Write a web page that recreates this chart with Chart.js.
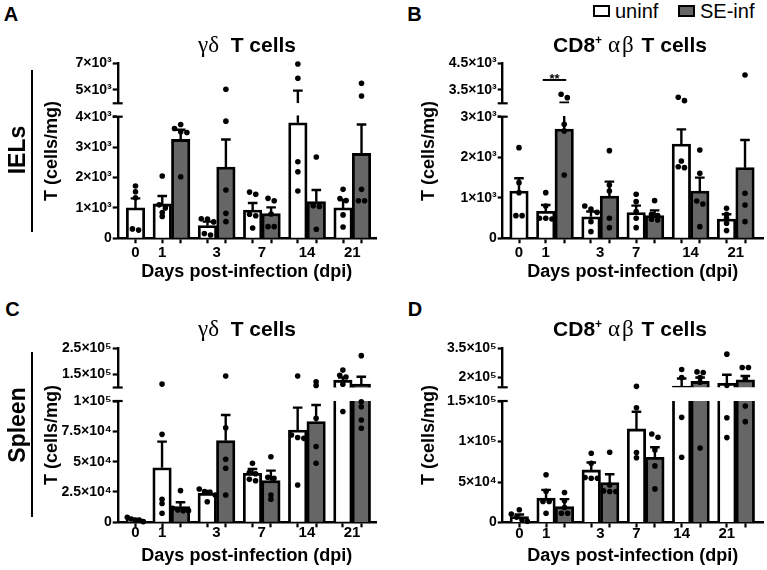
<!DOCTYPE html>
<html><head><meta charset="utf-8"><title>T cells</title>
<script src="https://cdn.jsdelivr.net/npm/chart.js@4.4.1/dist/chart.umd.min.js"></script>
<style>
html,body{margin:0;padding:0;background:#fff;}
#fig{position:relative;width:767px;height:570px;overflow:hidden;background:#fff;font-family:'Liberation Sans',Arial,Helvetica,sans-serif;color:#000;}
#fig canvas{position:absolute;}
.tx{position:absolute;white-space:nowrap;line-height:1;transform:translate(-50%,-50%);}
.lt{position:absolute;white-space:nowrap;line-height:1;transform:translate(0,-50%);}
.rot{transform:translate(-50%,-50%) rotate(-90deg);}
.bold{font-weight:bold;}
.gr{font-family:'Liberation Serif','DejaVu Serif',serif;font-weight:normal;}
.vline{position:absolute;background:#000;width:2.5px;}
.lbox{position:absolute;box-sizing:border-box;border:2px solid #000;width:17px;height:12px;}
</style></head>
<body><div id="fig"></div>
<script>
// ---------------- DATA ----------------
const days = ['0', '1', '3', '7', '14', '21'];
const seriesNames = ['uninf', 'SE-inf'];

// Panel A: γδ T cells, IELs
const A_uninfMean = [1000, 1130, 416, 930, 3800, 1000];
const A_uninfSem  = [314, 260, 132, 230, 1150, 260];
const A_infMean   = [null, 3252, 2343, 810, 1205, 2792];
const A_infSem    = [null, 320, 909, 208, 383, 953];
const A_uninfDots = [[1720,1530,1330,270,310],[2050,1100,1000,850,720],[640,540,630,160,110],[1520,1450,790,740,340],[6950,5875,2520,2190,1555],[1610,1310,1240,770,370]];
const A_infDots   = [[],[3745,3614,3504,3482,2026],[5050,3854,1588,821,548],[1314,1237,800,383,383],[2672,1050,1070,296],[5500,4550,1610,1237,1237]];
const A_lowerTicks = [0, 1000, 2000, 3000, 4000];
const A_lowerTickLabels = ['0', '1×10³', '2×10³', '3×10³', '4×10³'];
const A_upperTicks = [5000, 7000];
const A_upperTickLabels = ['5×10³', '7×10³'];

// Panel B: CD8+ αβ T cells, IELs
const B_uninfMean = [1167, 666, 530, 633, 2326, 477];
const B_uninfSem  = [313, 156, 130, 172, 362, 115];
const B_infMean   = [null, 2696, 1044, 559, 1167, 1743];
const B_infSem    = [null, 324, 353, 131, 329, 682];
const B_uninfDots = [[2236,1373,1126,559,559],[1126,797,493,493,477],[797,723,640,411,164],[1085,904,658,493,263],[3225,3100,1907,1743,1767],[740,590,500,370,190]];
const B_infDots   = [[],[3337,3212,2811,2650,1562],[2162,1315,1167,493,263],[929,590,560,470,450],[2178,1603,921,847,288],[4063,1110,822,411]];
const B_lowerTicks = [0, 1000, 2000, 3000];
const B_lowerTickLabels = ['0', '1×10³', '2×10³', '3×10³'];
const B_upperTicks = [3500, 4500];
const B_upperTickLabels = ['3.5×10³', '4.5×10³'];
const B_sigDay = 1, B_sigValue = 3875, B_sigText = '**';

// Panel C: γδ T cells, Spleen
const C_uninfMean = [2300, 45000, 23900, 40400, 76100, 128000];
const C_uninfSem  = [500, 21500, 1900, 3600, 18400, 10000];
const C_infMean   = [null, 12900, 67300, 34300, 83000, 112800];
const C_infSem    = [null, 3600, 21150, 8300, 13700, 28200];
const C_uninfDots = [[4100,2750,1900,1900,550],[113000,72500,19000,15500,7500],[27500,25300,24700,22500,17000],[48600,41000,40000,35400,34300],[143600,72000,69900,69200,30800],[166500,147000,140000,112500,91400]];
const C_infDots   = [[],[26100,11500,10200,9600,9600],[143600,78000,51900,44500,22500],[54100,37100,36300,22500,19000],[122000,108000,85700,62500,48700],[221800,99400,95300,84300,77500]];
const C_lowerTicks = [0, 25000, 50000, 75000, 100000];
const C_lowerTickLabels = ['0', '2.5×10⁴', '5×10⁴', '7.5×10⁴', '1×10⁵'];
const C_upperTicks = [150000, 250000];
const C_upperTickLabels = ['1.5×10⁵', '2.5×10⁵'];

// Panel D: CD8+ αβ T cells, Spleen
const D_uninfMean = [7400, 30000, 64900, 115500, 156000, 171000];
const D_uninfSem  = [2500, 10300, 9100, 21300, 39000, 43000];
const D_infMean   = [null, 19700, 49300, 80500, 180000, 188000];
const D_infSem    = [null, 9100, 10300, 12400, 20000, 20000];
const D_uninfDots = [[15800,10500,6500,3500,1500],[59000,38500,26000,26000,11500],[85500,73100,54700,54700,55500],[155000,141600,86300,80000],[241000,200000,129800,80500],[320000,160000,129400,104800]];
const D_infDots   = [[],[37000,26700,18500,11500,11500],[86700,46400,39000,38200,38200],[109300,105200,89600,69900,41500],[229000,226000,200000,176000,92000],[251700,251700,195000,143800,124500]];
const D_lowerTicks = [0, 50000, 100000, 150000];
const D_lowerTickLabels = ['0', '5×10⁴', '1×10⁵', '1.5×10⁵'];
const D_upperTicks = [200000, 350000];
const D_upperTickLabels = ['2×10⁵', '3.5×10⁵'];

// ---------------- LAYOUT / STYLE ----------------
const FONT = "'Liberation Sans', Arial, sans-serif";
const UNIT = 18.45;      // px per bar slot
const BAR_W = 18.5;
const GRAY = '#666666';
const fig = document.getElementById('fig');

function barPos(k, s) { return k === 0 ? 0 : 1.45 + (k - 1) * 2.45 + s; }

const panels = [
  { uMean: A_uninfMean, uSem: A_uninfSem, sMean: A_infMean, sSem: A_infSem, uDots: A_uninfDots, sDots: A_infDots,
    ticks: { lower: [A_lowerTicks, A_lowerTickLabels], upper: [A_upperTicks, A_upperTickLabels] },
    range: { lower: [0, 4000], upper: [4000, 7000] },
    area: { lower: [116.7, 238.3], upper: [63.3, 103.3] },
    left: 0, width: 383, axisX: 117.7, rightX: 376, day0X: 135.5,
    upperCanvas: [53, 60], lowerCanvas: [106, 186],
    labelAnchor: ['u','u','m','m','m','m'], tickPad: 1, titlePad: 8.7 },
  { uMean: B_uninfMean, uSem: B_uninfSem, sMean: B_infMean, sSem: B_infSem, uDots: B_uninfDots, sDots: B_infDots,
    ticks: { lower: [B_lowerTicks, B_lowerTickLabels], upper: [B_upperTicks, B_upperTickLabels] },
    range: { lower: [0, 3000], upper: [3000, 4500] },
    area: { lower: [116.7, 238.3], upper: [63.3, 103.3] },
    left: 383, width: 384, axisX: 502.7, rightX: 763, day0X: 519,
    upperCanvas: [53, 60], lowerCanvas: [106, 186],
    labelAnchor: ['u','u','m','u','m','m'], tickPad: 1, titlePad: 8.7,
    sig: { day: B_sigDay, value: B_sigValue, text: B_sigText } },
  { uMean: C_uninfMean, uSem: C_uninfSem, sMean: C_infMean, sSem: C_infSem, uDots: C_uninfDots, sDots: C_infDots,
    ticks: { lower: [C_lowerTicks, C_lowerTickLabels], upper: [C_upperTicks, C_upperTickLabels] },
    range: { lower: [0, 100000], upper: [100000, 250000] },
    area: { lower: [401, 522.3], upper: [348.3, 387.5] },
    left: 0, width: 383, axisX: 117.7, rightX: 376, day0X: 135.3,
    upperCanvas: [338, 60], lowerCanvas: [390, 180],
    labelAnchor: ['u','u','m','m','m','m'], tickPad: -3, titlePad: 2.7 },
  { uMean: D_uninfMean, uSem: D_uninfSem, sMean: D_infMean, sSem: D_infSem, uDots: D_uninfDots, sDots: D_infDots,
    ticks: { lower: [D_lowerTicks, D_lowerTickLabels], upper: [D_upperTicks, D_upperTickLabels] },
    range: { lower: [0, 150000], upper: [150000, 350000] },
    area: { lower: [401, 522.5], upper: [348.3, 387.3] },
    left: 383, width: 384, axisX: 502.7, rightX: 763, day0X: 519.3,
    upperCanvas: [338, 60], lowerCanvas: [390, 180],
    labelAnchor: ['u','u','m','u','u','u'], tickPad: -3, titlePad: 2.7 }
];

// horizontal spread (px) of overlapping dots, computed from values
function dotOffsets(vals, P) {
  const items = vals.map((v, i) => {
    const seg = v <= P.range.lower[1] ? 'lower' : 'upper';
    const [mn, mx] = P.range[seg], [t, b] = P.area[seg];
    return { i, seg, py: t + (mx - v) / (mx - mn) * (b - t) };
  });
  const out = vals.map(() => 0);
  ['lower', 'upper'].forEach(seg => {
    const arr = items.filter(it => it.seg === seg).sort((a, b) => a.py - b.py);
    let cl = [];
    const flush = () => {
      const n = cl.length, sp = n > 1 ? Math.min(6.2, 16 / (n - 1)) : 0;
      cl.forEach((it, k) => { out[it.i] = (k - (n - 1) / 2) * sp; });
      cl = [];
    };
    arr.forEach(it => { if (cl.length && it.py - cl[cl.length - 1].py >= 3.5) flush(); cl.push(it); });
    flush();
  });
  return out;
}

function buildChart(P, seg) {
  const isLower = seg === 'lower';
  const [ymin, ymax] = P.range[seg];
  const [aTop, aBot] = P.area[seg];
  const [cTop, cH] = isLower ? P.lowerCanvas : P.upperCanvas;
  const cv = document.createElement('canvas');
  cv.width = P.width; cv.height = cH;
  Object.assign(cv.style, { left: P.left + 'px', top: cTop + 'px', width: P.width + 'px', height: cH + 'px' });
  fig.appendChild(cv);
  const padTop = aTop - cTop;
  const below = cTop + cH - aBot;
  const yW = P.axisX - P.left;
  const padRight = P.left + P.width - P.rightX;
  const xMin = -(P.day0X - P.axisX) / UNIT;
  const xMax = xMin + (P.rightX - P.axisX) / UNIT;
  const inSeg = v => v != null && (isLower ? v <= ymax : v > ymin);
  const segBar = v => v == null ? null : (isLower ? v : (v > ymin ? v : null));

  const uBars = days.map((d, k) => ({ x: barPos(k, 0), y: segBar(P.uMean[k]) }));
  const sBars = [];
  days.forEach((d, k) => { if (P.sMean[k] != null) sBars.push({ x: barPos(k, 1), y: segBar(P.sMean[k]) }); });
  const dotData = (dots, s) => {
    const out = [];
    dots.forEach((vals, k) => {
      const off = dotOffsets(vals, P);
      vals.forEach((v, i) => { if (inSeg(v)) out.push({ x: barPos(k, s) + off[i] / UNIT, y: v }); });
    });
    return out;
  };
  const errs = [];
  days.forEach((d, k) => {
    errs.push({ x: barPos(k, 0), m: P.uMean[k], e: P.uSem[k] });
    if (P.sMean[k] != null) errs.push({ x: barPos(k, 1), m: P.sMean[k], e: P.sSem[k] });
  });
  const markPos = [];
  days.forEach((d, k) => { markPos.push(barPos(k, 0)); if (P.sMean[k] != null) markPos.push(barPos(k, 1)); });
  const labelPos = days.map((d, k) => (k === 0 || P.labelAnchor[k] === 'u') ? barPos(k, 0) : barPos(k, 0) + 0.5);
  const [tv, tl] = P.ticks[seg];

  const barStyle = { type: 'bar', borderColor: '#000', borderWidth: 2.8, borderSkipped: 'start', grouped: false,
                     barThickness: BAR_W, clip: 0, order: 2 };
  const dotStyle = { type: 'scatter', pointRadius: 2.8, pointHoverRadius: 2.8, pointBackgroundColor: '#000',
                     pointBorderWidth: 0, borderColor: '#000', backgroundColor: '#000', showLine: false, order: 1,
                     clip: 6 };

  const decor = {
    id: 'decor',
    afterDatasetsDraw(chart) {
      const { ctx, chartArea: a } = chart;
      const xs = chart.scales.x, ys = chart.scales.y;
      ctx.save();
      ctx.beginPath();
      ctx.rect(a.left - 10, a.top - 1.5, a.right - a.left + 20, a.bottom - a.top + 1.5);
      ctx.clip();
      ctx.strokeStyle = '#000'; ctx.lineWidth = 2.4; ctx.lineCap = 'butt';
      errs.forEach(e => {
        const px = xs.getPixelForValue(e.x);
        const top = e.m + e.e;
        const yTop = ys.getPixelForValue(top), yBase = ys.getPixelForValue(e.m);
        const y1 = Math.min(yBase, a.bottom), y2 = Math.max(yTop, a.top - 1.5);
        if (y2 < y1) { ctx.beginPath(); ctx.moveTo(px, y1); ctx.lineTo(px, y2); ctx.stroke(); }
        if (top >= ys.min && top <= ys.max) {
          ctx.beginPath(); ctx.moveTo(px - 4.8, yTop); ctx.lineTo(px + 4.8, yTop); ctx.stroke();
        }
      });
      ctx.restore();
      // axis break caps
      ctx.save();
      ctx.strokeStyle = '#000'; ctx.lineWidth = 2.2;
      const yb = isLower ? a.top : a.bottom;
      ctx.beginPath(); ctx.moveTo(a.left - 5, yb); ctx.lineTo(a.left + 5, yb); ctx.stroke();
      // significance bracket
      if (!isLower && P.sig) {
        const k = days.indexOf(String(P.sig.day));
        const x1 = xs.getPixelForValue(barPos(k, 0)) - 3, x2 = xs.getPixelForValue(barPos(k, 1)) + 2;
        const y = ys.getPixelForValue(P.sig.value);
        ctx.lineWidth = 2;
        ctx.beginPath(); ctx.moveTo(x1, y); ctx.lineTo(x2, y); ctx.stroke();
        ctx.fillStyle = '#000'; ctx.font = 'bold 13px ' + FONT; ctx.textAlign = 'center'; ctx.textBaseline = 'alphabetic';
        ctx.fillText(P.sig.text, (x1 + x2) / 2, y + 3.5);
      }
      ctx.restore();
    }
  };

  return new Chart(cv, {
    type: 'bar',
    data: {
      datasets: [
        Object.assign({ label: seriesNames[0], data: dotData(P.uDots, 0) }, dotStyle),
        Object.assign({ label: seriesNames[1], data: dotData(P.sDots, 1) }, dotStyle),
        Object.assign({ label: seriesNames[0], data: uBars, backgroundColor: '#ffffff' }, barStyle),
        Object.assign({ label: seriesNames[1], data: sBars, backgroundColor: GRAY }, barStyle)
      ]
    },
    options: {
      responsive: false, animation: false, devicePixelRatio: 1,
      events: [],
      layout: { padding: { top: padTop, bottom: isLower ? 0 : below, left: 0, right: padRight } },
      plugins: { legend: { display: false }, tooltip: { enabled: false }, title: { display: false } },
      scales: {
        x: {
          type: 'linear', min: xMin, max: xMax, display: isLower, offset: false,
          afterBuildTicks: s => { s.ticks = markPos.map(v => ({ value: v })).concat(labelPos.map(v => ({ value: v }))); },
          afterFit: s => { if (isLower) s.height = below; },
          grid: { display: true, offset: false, drawOnChartArea: false, drawTicks: true, tickLength: 5, tickWidth: 2.2,
                  tickColor: c => c.index < markPos.length ? '#000' : 'rgba(0,0,0,0)' },
          border: { display: true, color: '#000', width: 2.4 },
          ticks: { autoSkip: false, maxRotation: 0, minRotation: 0, padding: P.tickPad, color: '#000',
                   font: { family: FONT, size: 15, weight: 'bold' },
                   callback: (v, i) => i < markPos.length ? '' : days[i - markPos.length] },
          title: { display: true, text: 'Days post-infection (dpi)', color: '#000',
                   font: { family: FONT, size: 18, weight: 'bold' }, padding: { top: 0, bottom: P.titlePad } }
        },
        y: {
          type: 'linear', min: ymin, max: ymax,
          afterBuildTicks: s => { s.ticks = tv.map(v => ({ value: v })); },
          afterFit: s => { s.width = yW; },
          grid: { display: true, drawOnChartArea: false, drawTicks: true, tickLength: 5, tickWidth: 2.2, tickColor: '#000' },
          border: { display: true, color: '#000', width: 2.4 },
          ticks: { autoSkip: false, padding: 1, color: '#000', font: { family: FONT, size: 14, weight: 'bold' },
                   callback: v => { const i = tv.indexOf(v); return i >= 0 ? tl[i] : ''; } }
        }
      }
    },
    plugins: [decor]
  });
}

panels.forEach(P => { buildChart(P, 'upper'); buildChart(P, 'lower'); });

// ---------------- TEXT OVERLAYS ----------------
function addText(html, x, y, size, cls) {
  const d = document.createElement('div');
  d.className = cls; d.innerHTML = html;
  d.style.left = x + 'px'; d.style.top = y + 'px'; d.style.fontSize = size + 'px';
  fig.appendChild(d);
  return d;
}
const gdTitle = '<span class="gr" style="font-size:23px">γδ</span>&nbsp; T cells';
const cdTitle = 'CD8<span style="font-size:12px;position:relative;top:-8px">+</span>&nbsp;<span class="gr" style="font-size:23px;letter-spacing:2px">αβ</span> T cells';
addText('A', 11, 14, 20, 'tx bold');
addText('B', 414.5, 14, 20, 'tx bold');
addText('C', 12.5, 309, 20, 'tx bold');
addText('D', 415, 309, 20, 'tx bold');
addText(gdTitle, 247, 43.5, 21, 'tx bold');
addText(cdTitle, 630, 43.5, 21, 'tx bold');
addText(gdTitle, 247, 328, 21, 'tx bold');
addText(cdTitle, 630, 328, 21, 'tx bold');
addText('T (cells/mg)', 50.5, 150.5, 18, 'tx rot bold');
addText('T (cells/mg)', 428, 150.5, 18, 'tx rot bold');
addText('T (cells/mg)', 50.5, 435, 18, 'tx rot bold');
addText('T (cells/mg)', 428, 435, 18, 'tx rot bold');
addText('IELs', 16.5, 150, 23, 'tx rot bold');
addText('Spleen', 16.5, 425, 23, 'tx rot bold');
[[70, 162], [352, 165]].forEach(([t, h]) => {
  const l = document.createElement('div'); l.className = 'vline';
  l.style.left = '30.5px'; l.style.top = t + 'px'; l.style.height = h + 'px'; fig.appendChild(l);
});
// legend
[[593, '#ffffff', 615, seriesNames[0]], [678, GRAY, 700, seriesNames[1]]].forEach(([bx, col, tx, name]) => {
  const b = document.createElement('div'); b.className = 'lbox';
  b.style.left = bx + 'px'; b.style.top = '5px'; b.style.background = col; fig.appendChild(b);
  addText(name, tx, 11, 20, 'lt');
});
</script></body></html>
